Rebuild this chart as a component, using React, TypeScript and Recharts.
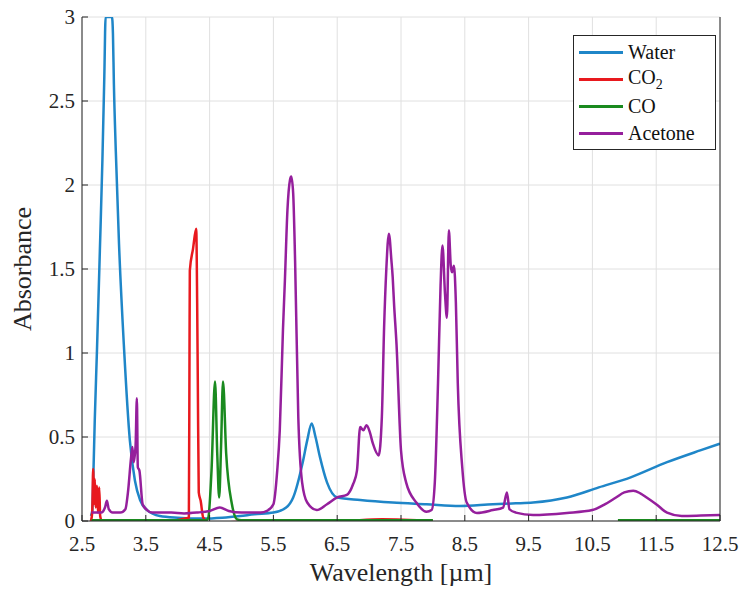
import React from 'react';
import { LineChart, Line, XAxis, YAxis, CartesianGrid, Label } from 'recharts';

const xTicks = [2.5, 3.5, 4.5, 5.5, 6.5, 7.5, 8.5, 9.5, 10.5, 11.5, 12.5];
const yTicks = [0, 0.5, 1, 1.5, 2, 2.5, 3];

const waterX = [2.64, 2.66, 2.68, 2.7, 2.735, 2.78, 2.82, 2.85, 2.87, 2.97, 2.985, 3.0, 3.03, 3.08, 3.16, 3.25, 3.33, 3.41, 3.52, 3.72, 4.0, 4.4, 4.7, 4.98, 5.2, 5.5, 5.7, 5.81, 5.96, 6.03, 6.1, 6.16, 6.23, 6.34, 6.5, 6.86, 7.37, 7.9, 8.42, 8.94, 9.3, 9.57, 10.1, 10.6, 11.1, 11.67, 12.19, 12.5];
const waterY = [0.03, 0.06, 0.3, 0.6, 1.02, 1.61, 2.15, 2.65, 3.0, 3.0, 2.9, 2.6, 2.2, 1.65, 1.02, 0.48, 0.24, 0.125, 0.065, 0.03, 0.02, 0.015, 0.02, 0.03, 0.04, 0.05, 0.08, 0.14, 0.35, 0.48, 0.58, 0.5, 0.38, 0.23, 0.14, 0.125, 0.11, 0.1, 0.09, 0.1, 0.105, 0.11, 0.14, 0.2, 0.26, 0.35, 0.42, 0.46];

const co2X = [2.64, 2.66, 2.675, 2.69, 2.7, 2.715, 2.735, 2.75, 2.77, 2.785, 2.81, 3.2, 3.8, 4.175, 4.185, 4.19, 4.24, 4.29, 4.305, 4.315, 4.33, 4.36, 4.4, 4.5, 5.5, 6.5, 7.2, 8.0];
const co2Y = [0, 0.05, 0.31, 0.1, 0.25, 0.08, 0.21, 0.05, 0.2, 0.03, 0, 0, 0, 0.02, 1.0, 1.49, 1.62, 1.74, 1.3, 0.84, 0.17, 0.12, 0.02, -0.01, 0, 0, 0.01, 0];

const coX = [2.65, 3.5, 4.0, 4.45, 4.48, 4.53, 4.585, 4.62, 4.65, 4.68, 4.71, 4.76, 4.85, 4.93, 5.0, 6.0, 7.0, 8.0, 8.05, 10.9, 11.5, 12.5];
const coY: (number | null)[] = [0.005, 0.005, 0.005, 0.005, 0.02, 0.3, 0.83, 0.4, 0.14, 0.45, 0.83, 0.4, 0.1, 0.01, 0.005, 0.005, 0.005, 0.005, null, 0.005, 0.005, 0.005];

const acetoneX = [2.65, 2.8, 2.86, 2.89, 2.92, 2.98, 3.1, 3.18, 3.22, 3.27, 3.29, 3.31, 3.34, 3.36, 3.375, 3.4, 3.45, 3.52, 3.6, 3.9, 4.1, 4.3, 4.5, 4.66, 4.8, 5.0, 5.3, 5.4, 5.5, 5.56, 5.6, 5.65, 5.68, 5.72, 5.76, 5.78, 5.81, 5.84, 5.89, 5.95, 6.03, 6.18, 6.34, 6.5, 6.65, 6.75, 6.81, 6.86, 6.91, 6.96, 7.01, 7.06, 7.15, 7.2, 7.235, 7.27, 7.31, 7.35, 7.37, 7.39, 7.43, 7.5, 7.58, 7.74, 7.9, 7.98, 8.03, 8.08, 8.12, 8.15, 8.19, 8.22, 8.25, 8.28, 8.3, 8.33, 8.36, 8.39, 8.46, 8.53, 8.69, 8.94, 9.1, 9.16, 9.2, 9.3, 9.57, 10.1, 10.5, 10.7, 10.87, 11.0, 11.14, 11.25, 11.35, 11.5, 11.67, 11.9, 12.2, 12.5];
const acetoneY = [0.05, 0.05, 0.08, 0.12, 0.07, 0.05, 0.05, 0.07, 0.17, 0.38, 0.44, 0.35, 0.45, 0.73, 0.32, 0.3, 0.1, 0.065, 0.05, 0.05, 0.045, 0.05, 0.06, 0.08, 0.06, 0.05, 0.05, 0.06, 0.1, 0.3, 0.54, 1.14, 1.43, 1.85, 2.03, 2.05, 1.95, 1.55, 0.62, 0.23, 0.11, 0.065, 0.1, 0.14, 0.155, 0.22, 0.3, 0.56, 0.54, 0.57, 0.53, 0.46, 0.39, 0.62, 1.15, 1.5, 1.71, 1.55, 1.45, 1.3, 1.05, 0.42, 0.23, 0.11, 0.055, 0.065, 0.23, 0.82, 1.4, 1.64, 1.35, 1.21, 1.73, 1.52, 1.48, 1.52, 1.3, 0.82, 0.32, 0.11, 0.048, 0.065, 0.08, 0.17, 0.07, 0.05, 0.036, 0.048, 0.065, 0.1, 0.14, 0.17, 0.18, 0.165, 0.14, 0.1, 0.05, 0.03, 0.032, 0.035];

const toPoints = (xs: number[], ys: (number | null)[]) => xs.map((x, i) => ({ x, y: ys[i] }));

const series = [
  { name: 'Water', color: '#1f86c8', data: toPoints(waterX, waterY) },
  { name: 'CO2', color: '#e8191e', data: toPoints(co2X, co2Y) },
  { name: 'CO', color: '#1a8a1f', data: toPoints(coX, coY) },
  { name: 'Acetone', color: '#951f9c', data: toPoints(acetoneX, acetoneY) },
];

const font = '"Liberation Serif", "Times New Roman", serif';
const axisColor = '#262626';

const XTick = (props: any) => {
  const { x, y, payload } = props;
  return (
    <text x={x} y={y} dy={16} textAnchor="middle" fontFamily={font} fontSize={21} fill={axisColor}>
      {String(payload.value)}
    </text>
  );
};

const YTick = (props: any) => {
  const { x, y, payload } = props;
  return (
    <text x={x} y={y} dy={7} textAnchor="end" fontFamily={font} fontSize={21} fill={axisColor}>
      {String(payload.value)}
    </text>
  );
};

const LegendBox = () => (
  <div
    style={{
      position: 'absolute',
      left: 573,
      top: 35,
      border: `1px solid ${axisColor}`,
      background: '#fff',
      padding: '3px 12px 2px 5px',
      fontFamily: font,
      fontSize: 20,
      color: '#111',
      width: 124,
    }}
  >
    {series.map((s) => (
      <div key={s.name} style={{ display: 'flex', alignItems: 'center', height: 27 }}>
        <span style={{ display: 'inline-block', width: 44, height: 3, background: s.color, marginRight: 5 }} />
        <span>
          {s.name === 'CO2' ? (
            <>
              CO<sub style={{ fontSize: 14 }}>2</sub>
            </>
          ) : (
            s.name
          )}
        </span>
      </div>
    ))}
  </div>
);

export default function App() {
  return (
    <div style={{ position: 'absolute', left: 0, top: 0, width: 745, height: 591, background: '#fff', fontFamily: font }}>
      <LineChart width={745} height={591} margin={{ top: 17, right: 24, bottom: 30, left: 22 }}>
        <CartesianGrid stroke="#e0e0e0" strokeWidth={1} />
        <XAxis
          dataKey="x"
          type="number"
          domain={[2.5, 12.5]}
          ticks={xTicks}
          allowDataOverflow
          height={40}
          stroke={axisColor}
          tickSize={-6}
          tickMargin={20}
          tick={<XTick />}
        >
          <Label value="Wavelength [µm]" position="bottom" offset={2} style={{ fontFamily: font, fontSize: 26, fill: axisColor }} />
        </XAxis>
        <XAxis
          xAxisId="top"
          orientation="top"
          dataKey="x"
          type="number"
          domain={[2.5, 12.5]}
          ticks={xTicks}
          height={0}
          stroke={axisColor}
          tickSize={-6}
          tick={false}
        />
        <YAxis
          type="number"
          domain={[0, 3]}
          ticks={yTicks}
          allowDataOverflow
          width={60}
          stroke={axisColor}
          tickSize={-6}
          tickMargin={13}
          tick={<YTick />}
        >
          <Label
            value="Absorbance"
            angle={-90}
            position="insideLeft"
            offset={0}
            style={{ fontFamily: font, fontSize: 26, fill: axisColor, textAnchor: 'middle' }}
          />
        </YAxis>
        <YAxis
          yAxisId="right"
          orientation="right"
          type="number"
          domain={[0, 3]}
          ticks={yTicks}
          width={1}
          stroke={axisColor}
          tickSize={-6}
          tick={false}
        />
        {series.map((s) => (
          <Line
            key={s.name}
            data={s.data}
            dataKey="y"
            name={s.name}
            type="monotone"
            stroke={s.color}
            strokeWidth={2.5}
            dot={false}
            activeDot={false}
            connectNulls={false}
            isAnimationActive={false}
          />
        ))}
      </LineChart>
      <LegendBox />
    </div>
  );
}
